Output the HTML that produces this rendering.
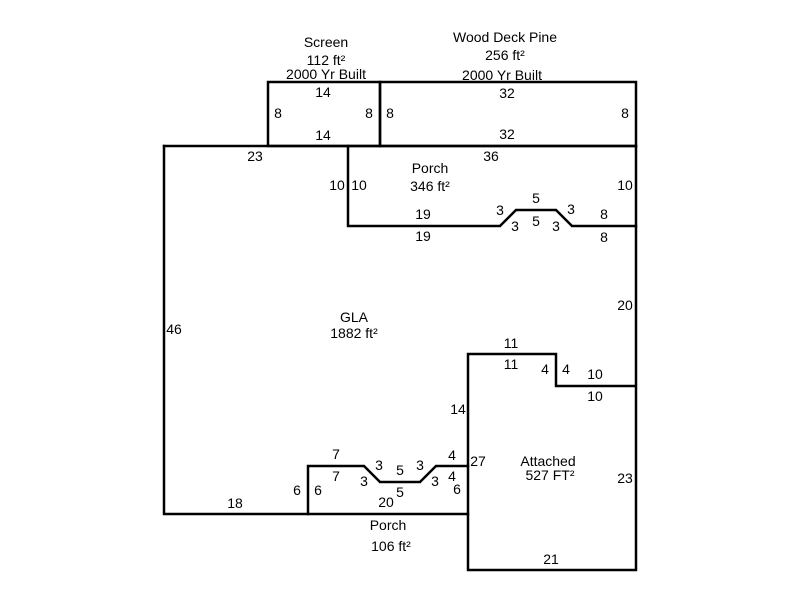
<!DOCTYPE html>
<html><head><style>
html,body{margin:0;padding:0;background:#fff;}
svg{display:block;}
text{font-family:"Liberation Sans",Arial,sans-serif;font-size:14px;fill:#000;}
</style></head><body>
<svg width="800" height="600" viewBox="0 0 800 600" xmlns="http://www.w3.org/2000/svg">
<g fill="none" stroke="#000" stroke-width="2.5" stroke-linecap="square">
<rect x="268" y="82" width="112" height="64"/>
<rect x="380" y="82" width="256" height="64"/>
<polyline points="164,146 636,146"/>
<polyline points="164,146 164,514 468,514"/>
<polyline points="348,146 348,226 500,226 516,210 556,210 572,226 636,226"/>
<polyline points="636,146 636,570 468,570 468,354 556,354 556,386 636,386"/>
<polyline points="308,514 308,466 364,466 380,482 420,482 436,466 468,466"/>
</g>
<g text-anchor="middle">
<text x="326" y="47">Screen</text>
<text x="326" y="65">112 ft²</text>
<text x="326" y="79">2000 Yr Built</text>
<text x="505" y="42">Wood Deck Pine</text>
<text x="505" y="60">256 ft²</text>
<text x="502" y="80">2000 Yr Built</text>
<text x="323" y="97">14</text>
<text x="323" y="140">14</text>
<text x="278" y="118">8</text>
<text x="369" y="118">8</text>
<text x="390" y="118">8</text>
<text x="507" y="98">32</text>
<text x="507" y="139">32</text>
<text x="625" y="118">8</text>
<text x="255" y="161">23</text>
<text x="491" y="161">36</text>
<text x="430" y="173">Porch</text>
<text x="430" y="191">346 ft²</text>
<text x="337" y="190">10</text>
<text x="359" y="190">10</text>
<text x="625" y="190">10</text>
<text x="423" y="219">19</text>
<text x="423" y="241">19</text>
<text x="500" y="215">3</text>
<text x="515" y="231">3</text>
<text x="536" y="203">5</text>
<text x="536" y="226">5</text>
<text x="571" y="214">3</text>
<text x="556" y="231">3</text>
<text x="604" y="219">8</text>
<text x="604" y="242">8</text>
<text x="625" y="310">20</text>
<text x="174" y="334">46</text>
<text x="354" y="322">GLA</text>
<text x="354" y="338">1882 ft²</text>
<text x="511" y="348">11</text>
<text x="511" y="369">11</text>
<text x="545" y="374">4</text>
<text x="566" y="374">4</text>
<text x="595" y="379">10</text>
<text x="595" y="401">10</text>
<text x="458" y="414">14</text>
<text x="548" y="466">Attached</text>
<text x="550" y="480">527 FT²</text>
<text x="625" y="483">23</text>
<text x="478" y="466">27</text>
<text x="336" y="459">7</text>
<text x="336" y="481">7</text>
<text x="379" y="470">3</text>
<text x="364" y="486">3</text>
<text x="400" y="475">5</text>
<text x="400" y="497">5</text>
<text x="420" y="470">3</text>
<text x="435" y="486">3</text>
<text x="452" y="460">4</text>
<text x="452" y="481">4</text>
<text x="457" y="494">6</text>
<text x="297" y="495">6</text>
<text x="318" y="495">6</text>
<text x="386" y="507">20</text>
<text x="235" y="508">18</text>
<text x="388" y="530">Porch</text>
<text x="391" y="551">106 ft²</text>
<text x="551" y="564">21</text>
</g>
</svg>
</body></html>
